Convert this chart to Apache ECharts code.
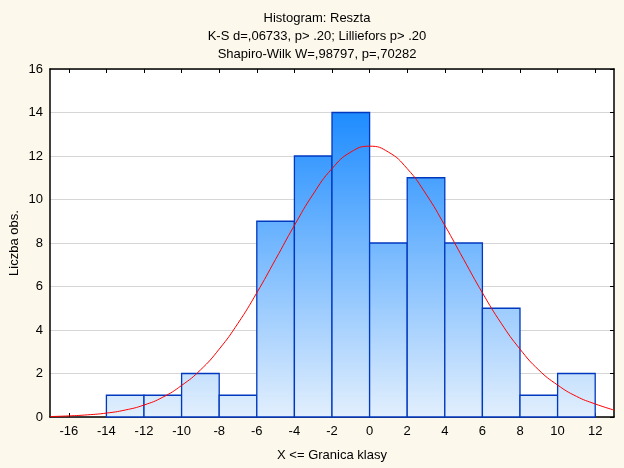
<!DOCTYPE html>
<html>
<head>
<meta charset="utf-8">
<script src="https://cdn.jsdelivr.net/npm/echarts@6/dist/echarts.min.js"></script>
<style>
html,body{margin:0;padding:0;background:#fdf8ec;}
#chart{width:624px;height:468px;}
</style>
</head>
<body>
<div id="chart"></div>
<script>
// Histogram bins (lower edge), bin width 2
const binLower = [-16, -14, -12, -10, -8, -6, -4, -2, 0, 2, 4, 6, 8, 10];
const binWidth = 2;
const counts = [0, 1, 1, 2, 1, 9, 12, 14, 8, 11, 8, 5, 1, 2];
// Expected normal curve
const curveX = [-17,-16,-15,-14,-13,-12,-11,-10,-9,-8,-7,-6,-5,-4,-3,-2,-1,0,1,2,3,4,5,6,7,8,9,10,11,12,13];
const curveY = [0.02,0.05,0.1,0.18,0.32,0.55,0.91,1.45,2.16,3.12,4.31,5.71,7.25,8.81,10.25,11.42,12.18,12.45,12.18,11.42,10.25,8.81,7.25,5.71,4.31,3.12,2.16,1.47,0.95,0.6,0.32];
const xTicks = [-16,-14,-12,-10,-8,-6,-4,-2,0,2,4,6,8,10,12];
const titleLines = ['Histogram: Reszta', 'K-S d=,06733, p> .20; Lilliefors p> .20', 'Shapiro-Wilk W=,98797, p=,70282'];

const chart = echarts.init(document.getElementById('chart'), null, {renderer: 'canvas'});
const font = 'Liberation Sans, Arial, sans-serif';
const histData = binLower.map((lo, i) => [lo, lo + binWidth, counts[i]]);
const curveData = curveX.map((x, i) => [x, curveY[i]]);

const option = {
  backgroundColor: '#fdf8ec',
  animation: false,
  textStyle: {fontFamily: font},
  title: {
    text: titleLines.join('\n'),
    left: 312, top: 4, textAlign: 'center',
    textStyle: {fontFamily: font, fontSize: 13, fontWeight: 'normal', color: '#000', lineHeight: 18}
  },
  grid: {left: 50, right: 10, top: 69, bottom: 51, show: true, backgroundColor: '#fff', borderWidth: 0,
         containLabel: false, outerBoundsMode: 'none'},
  xAxis: [{
    type: 'value', min: -17, max: 13, position: 'bottom',
    name: 'X <= Granica klasy', nameLocation: 'middle', nameGap: 32, nameMoveOverlap: false,
    nameTextStyle: {fontFamily: font, fontSize: 13, color: '#000'},
    axisLine: {show: true, onZero: false, lineStyle: {color: '#000', width: 1.5}},
    axisTick: {show: true, inside: true, length: 4, customValues: xTicks, lineStyle: {color: '#000'}},
    axisLabel: {customValues: xTicks, fontFamily: font, fontSize: 13, color: '#000', margin: 8},
    splitLine: {show: false}
  }, {
    type: 'value', min: -17, max: 13, position: 'top',
    axisLine: {show: true, onZero: false, lineStyle: {color: '#000', width: 1.5}},
    axisTick: {show: true, inside: true, length: 4, customValues: xTicks, lineStyle: {color: '#000'}},
    axisLabel: {show: false},
    splitLine: {show: false}
  }],
  yAxis: [{
    type: 'value', min: 0, max: 16, interval: 2, position: 'left',
    name: 'Liczba obs.', nameLocation: 'middle', nameGap: 29, nameMoveOverlap: false,
    nameTextStyle: {fontFamily: font, fontSize: 13, color: '#000'},
    axisLine: {show: true, onZero: false, lineStyle: {color: '#000', width: 1.5}},
    axisTick: {show: false},
    axisLabel: {fontFamily: font, fontSize: 13, color: '#000', margin: 7},
    splitLine: {show: true, lineStyle: {color: '#d6d6d6', width: 1}}
  }, {
    type: 'value', min: 0, max: 16, interval: 2, position: 'right',
    axisLine: {show: true, onZero: false, lineStyle: {color: '#000', width: 1.5}},
    axisTick: {show: true, inside: true, length: 4, lineStyle: {color: '#000'}},
    axisLabel: {show: false},
    splitLine: {show: false}
  }],
  series: [{
    type: 'custom',
    xAxisIndex: 0, yAxisIndex: 0,
    data: histData,
    renderItem: function (params, api) {
      const lo = api.value(0), hi = api.value(1), c = api.value(2);
      if (!c) return null;
      const p0 = api.coord([lo, 0]);
      const p1 = api.coord([hi, c]);
      const yTop = api.coord([0, 14])[1];
      const yBot = api.coord([0, 0])[1];
      return {
        type: 'rect',
        shape: {x: p0[0], y: p1[1], width: p1[0] - p0[0], height: p0[1] - p1[1]},
        style: {
          fill: new echarts.graphic.LinearGradient(0, yTop, 0, yBot, [
            {offset: 0, color: '#1e8cff'},
            {offset: 1, color: '#e2effd'}
          ], true),
          stroke: '#0038c0',
          lineWidth: 1.3
        }
      };
    },
    z: 2
  }, {
    type: 'line',
    xAxisIndex: 0, yAxisIndex: 0,
    data: curveData,
    smooth: true,
    showSymbol: false,
    lineStyle: {color: '#ff0000', width: 1},
    z: 5
  }]
};
chart.setOption(option);
</script>
</body>
</html>
